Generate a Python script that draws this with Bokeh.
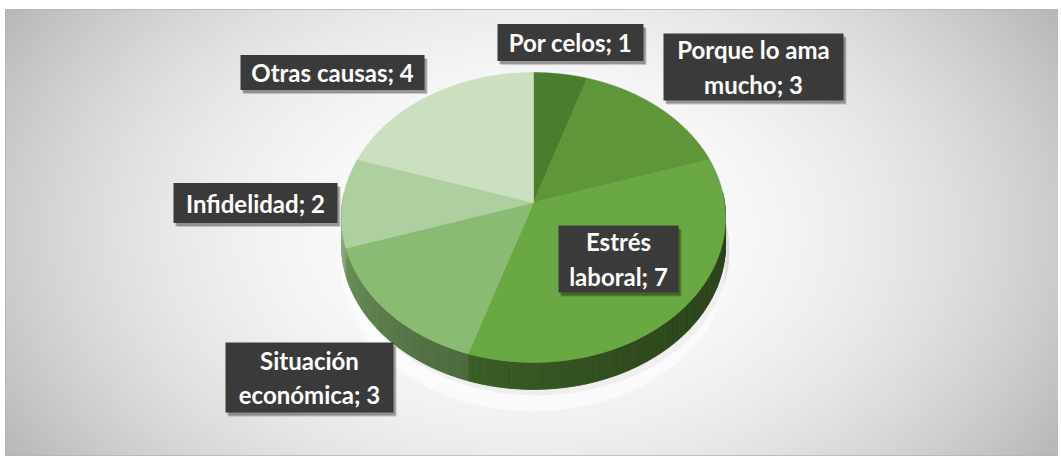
import numpy as np
from bokeh.plotting import figure
from bokeh.models import Range1d, ColumnDataSource
from bokeh.embed import file_html
from bokeh.resources import INLINE
from bokeh.core.properties import value

# ---------------- data ----------------
categories = ["Por celos", "Porque lo ama mucho", "Estrés laboral",
              "Situación económica", "Infidelidad", "Otras causas"]
values = [1, 3, 7, 3, 2, 4]
colors = ["#4B7D2F", "#5E9639", "#6AA843", "#8ABB72", "#AFCFA0", "#CBDFC1"]
# label text (same categories, line breaks as in the chart)
display_names = ["Por celos", "Porque lo ama\nmucho", "Estrés\nlaboral",
                 "Situación\neconómica", "Infidelidad", "Otras causas"]
labels = [f"{n}; {v}" for n, v in zip(display_names, values)]

# ---------------- layout ----------------
FL, FT, FR, FB = 5, 9, 1058, 455     # frame in page pixels
W, H = FR, FB + 1
label_pos = [(570, 42), (753, 66.5), (618, 258.5), (309, 377), (255, 202.5), (332, 72)]
label_box = [(146, 37), (180, 67), (120, 67), (168, 70), (164, 40), (184, 35)]

CX, CY = 533.0, 202.0      # apex of the pie (screen)
A, B, K = 191.0, 143.4, 0.1034
DEPTH = 27.0

p = figure(width=W, height=H, output_backend="svg", toolbar_location=None,
           x_range=Range1d(FL, FR), y_range=Range1d(FB, FT),
           min_border_left=FL, min_border_top=FT, min_border_right=W - FR,
           min_border_bottom=H - FB, tools="")
p.axis.visible = False
p.grid.visible = False
p.outline_line_color = "#B4B4B4"
p.background_fill_color = "white"
p.border_fill_color = "white"

# background radial gradient
xs = np.arange(FL, FR) + 0.5
ys = np.arange(FT, FB) + 0.5
XX, YY = np.meshgrid(xs, ys)
t = np.sqrt(((XX - 530) / 620.0) ** 2 + ((YY - 232) / 420.0) ** 2)
g = np.clip(255 - 72 * t ** 2.1, 0, 255).astype(np.uint32)
img = (255 << 24) | (g << 16) | (g << 8) | g
p.image_rgba(image=[img.astype(np.uint32)], x=FL, y=FT, dw=FR - FL, dh=FB - FT)


def proj(theta_deg, dy=0.0):
    th = np.radians(theta_deg)
    u = np.sin(th)
    v = -np.cos(th)
    d = 1 - K * v
    return CX + A * u / d, CY + B * v / d + dy


def shade(hexc, f):
    r, gg, b = int(hexc[1:3], 16), int(hexc[3:5], 16), int(hexc[5:7], 16)
    return "#%02x%02x%02x" % (int(r * f), int(gg * f), int(b * f))


total = float(sum(values))
bounds = np.concatenate([[0], np.cumsum(values)]) / total * 360.0

# soft shadow / glow below the pie
th_all = np.linspace(0, 360, 181)
sx, sy = proj(th_all, DEPTH + 6)
p.patch(sx + 4, sy, fill_color="black", fill_alpha=0.10, line_alpha=0)
gx, gy = proj(th_all, DEPTH + 22)
p.patch(gx, gy, fill_color="white", fill_alpha=0.55, line_alpha=0)

# side of the pie
side_xs, side_ys, side_cols = [], [], []
step = 1.0
for a in np.arange(86, 274, step):
    b = a + step
    mid = (a + b) / 2
    idx = int(np.searchsorted(bounds, mid) - 1)
    idx = max(0, min(idx, len(values) - 1))
    f = 0.40 + 0.45 * ((mid - 90) / 180.0) ** 2
    f = max(0.36, min(f, 0.85))
    ta = np.array([a, b])
    tx, ty = proj(ta)
    bx, by = proj(ta, DEPTH)
    side_xs.append([tx[0], tx[1], bx[1], bx[0]])
    side_ys.append([ty[0], ty[1], by[1], by[0]])
    side_cols.append(shade(colors[idx], f))
p.patches(xs=side_xs, ys=side_ys, fill_color=side_cols, line_color=side_cols,
          line_width=0.8)

# top of the pie
top_xs, top_ys = [], []
for i in range(len(values)):
    th = np.linspace(bounds[i], bounds[i + 1], 80)
    px, py = proj(th)
    top_xs.append(np.concatenate([[CX], px]).tolist())
    top_ys.append(np.concatenate([[CY], py]).tolist())
p.patches(xs=top_xs, ys=top_ys, fill_color=colors, line_color=colors,
          line_width=0.6)

# labels
lx = [q[0] for q in label_pos]
ly = [q[1] for q in label_pos]
bw = [q[0] for q in label_box]
bh = [q[1] for q in label_box]
src = ColumnDataSource(dict(x=lx, y=ly, w=bw, h=bh, text=labels,
                            xs=[v + 3 for v in lx], ys=[v + 4 for v in ly],
                            xs2=[v + 2 for v in lx], ys2=[v + 3 for v in ly]))
p.rect(x="xs", y="ys", width="w", height="h", source=src,
       fill_color="black", fill_alpha=0.18, line_alpha=0)
p.rect(x="xs2", y="ys2", width="w", height="h", source=src,
       fill_color="black", fill_alpha=0.25, line_alpha=0)
p.rect(x="x", y="y", width="w", height="h", source=src,
       fill_color="#3A3A3A", line_alpha=0)
p.text(x="x", y="y", text="text", source=src, text_font=value("Lato"),
       text_font_style="bold", text_font_size="24px", text_align="center",
       text_baseline="middle", text_color="white", text_line_height=1.2)

open("out.html", "w").write(file_html(p, INLINE))
